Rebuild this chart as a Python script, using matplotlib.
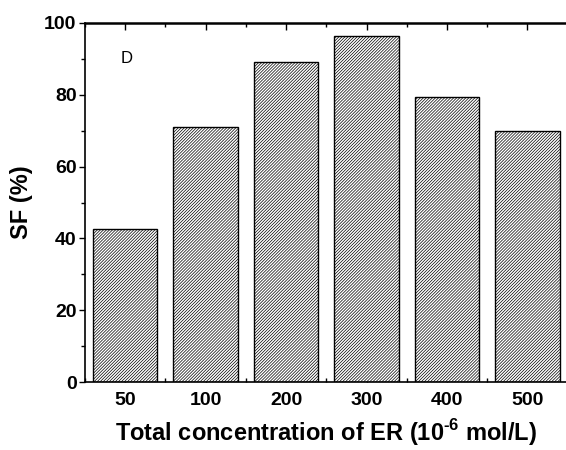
import numpy as np
import matplotlib
matplotlib.use("Agg")
import matplotlib.pyplot as plt
from matplotlib.ticker import MultipleLocator

plt.rcParams['font.family'] = ['Liberation Sans', 'DejaVu Sans']
plt.rcParams['mathtext.fontset'] = 'custom'
plt.rcParams['mathtext.rm'] = 'Liberation Sans:bold'
plt.rcParams['mathtext.bf'] = 'Liberation Sans:bold'
plt.rcParams['hatch.linewidth'] = 0.5

# selectivity factor vs. total ER concentration
conc_labels = ['50', '100', '200', '300', '400', '500']
sf_values = [42.5, 71.0, 89.0, 96.4, 79.5, 70.0]

x = np.arange(1, len(conc_labels) + 1)

fig = plt.figure(figsize=(5.66, 4.5), dpi=100)
ax = fig.add_axes([0.150, 0.151, 0.853, 0.798])

ax.bar(x, sf_values, width=0.8, color='white', edgecolor='black',
       hatch='/' * 11, linewidth=1.0, zorder=2)

ax.set_xlim(0.5, 6.5)
ax.set_ylim(0, 100)

ax.set_xticks(x)
ax.set_xticklabels(conc_labels, fontsize=14, fontweight='bold')
ax.xaxis.set_minor_locator(MultipleLocator(0.5))
ax.yaxis.set_major_locator(MultipleLocator(20))
ax.yaxis.set_minor_locator(MultipleLocator(10))
for lab in ax.get_yticklabels():
    lab.set_fontsize(14)
    lab.set_fontweight('bold')

ax.tick_params(axis='y', which='major', direction='out', length=4, width=1, pad=2)
ax.tick_params(axis='y', which='minor', direction='out', length=3, width=1)
ax.tick_params(axis='x', which='major', direction='in', length=5, width=1,
               top=True, pad=7)
ax.tick_params(axis='x', which='minor', direction='in', length=3, width=1,
               top=True)

for side in ['left', 'bottom', 'right']:
    ax.spines[side].set_linewidth(1.2)
ax.spines['top'].set_linewidth(1.8)

ax.set_xlabel('Total concentration of ER (10$^{\\text{-6}}$ mol/L)',
              fontsize=17, fontweight='bold', labelpad=6)
ax.set_ylabel('SF (%)', fontsize=17, fontweight='bold', labelpad=8)

ax.text(1.02, 90.2, 'D', fontsize=12, ha='center', va='center')

fig.savefig('out.png', dpi=100)
